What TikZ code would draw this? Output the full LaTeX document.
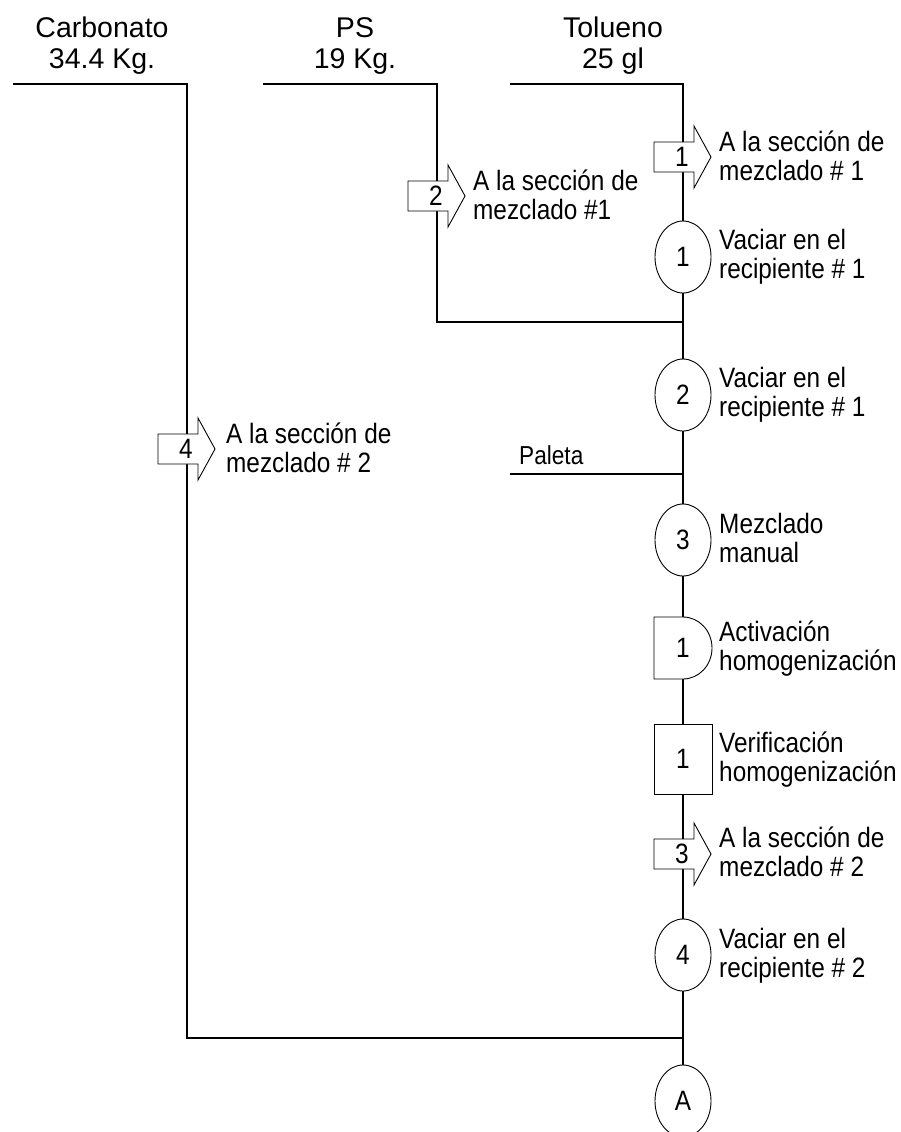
\documentclass[tikz,border=0pt]{standalone}
\usepackage{fontspec}
\setmainfont{Liberation Sans}
\newfontfamily\lblfont{Liberation Sans}[FakeStretch=0.87]
\usetikzlibrary{shapes.geometric,backgrounds}

\tikzset{
  flow/.style={line width=2.6pt},
  outl/.style={draw, line width=0.9pt, fill=white},
  opnode/.style={ellipse, outl, minimum width=56pt, minimum height=72pt, inner sep=0pt,
    font=\lblfont\fontsize{28}{30}\selectfont},
  inspnode/.style={rectangle, outl, minimum width=58pt, minimum height=70pt, inner sep=0pt,
    font=\lblfont\fontsize{28}{30}\selectfont},
  numtext/.style={inner sep=0pt, font=\lblfont\fontsize{28}{30}\selectfont},
  lbl/.style={align=left, anchor=base west, inner sep=0pt,
    font=\lblfont\fontsize{28}{29}\selectfont},
  toplbl/.style={align=center, anchor=base, inner sep=0pt,
    font=\fontsize{28.5}{31}\selectfont},
}
% transport arrow: name, x, y, number
\newcommand\transparrow[4]{%
  \draw[outl] (#2-29,#3-15) -- (#2+11,#3-15) -- (#2+11,#3-31) -- (#2+28,#3)
    -- (#2+11,#3+31) -- (#2+11,#3+15) -- (#2-29,#3+15) -- cycle;
  \node[numtext] (#1) at (#2-1,#3) {#4};}

\begin{document}
\begin{tikzpicture}[x=1pt,y=-1pt]
\useasboundingbox (0,0) rectangle (901,1132);

% top labels (base anchor = last line)
\node[toplbl] (carbLbl) at (102,68) {Carbonato\\34.4 Kg.};
\node[toplbl] (psLbl) at (355,68) {PS\\19 Kg.};
\node[toplbl] (tolLbl) at (613,68) {Tolueno\\25 gl};

% line coordinates
\coordinate (carbS) at (13,84);
\coordinate (carbC) at (187,84);
\coordinate (carbB) at (187,1038);
\coordinate (carbJ) at (683,1038);
\coordinate (psS) at (263,84);
\coordinate (psC) at (437,84);
\coordinate (psB) at (437,322);
\coordinate (psJ) at (683,322);
\coordinate (tolS) at (510,84);
\coordinate (tolC) at (683,84);
\coordinate (palS) at (510,474);
\coordinate (palJ) at (683,474);

% transports
\transparrow{t1}{683}{157}{1}
\transparrow{t2}{437}{196}{2}
\transparrow{t3}{683}{854}{3}
\transparrow{t4}{187}{449}{4}

% operations
\node[opnode] (op1) at (683,257) {1};
\node[opnode] (op2) at (683,395) {2};
\node[opnode] (op3) at (683,540) {3};
\node[opnode] (op4) at (683,955) {4};
\node[opnode] (conA) at (683,1101) {A};

% delay
\draw[outl] (654,617) -- (683,617) arc[start angle=-90, end angle=90, x radius=29, y radius=31]
  -- (654,679) -- cycle;
\node[numtext] (d1) at (683,648) {1};

% inspection
\node[inspnode] (i1) at (683,759) {1};

% labels (base anchor = last line baseline)
\node[lbl] (t1L) at (719,180) {A la sección de\\mezclado \# 1};
\node[lbl] (op1L) at (719,278) {Vaciar en el\\recipiente \# 1};
\node[lbl] (op2L) at (719,416) {Vaciar en el\\recipiente \# 1};
\node[lbl] (op3L) at (719,562) {Mezclado\\manual};
\node[lbl] (d1L) at (719,670) {Activación\\homogenización};
\node[lbl] (i1L) at (719,781) {Verificación\\homogenización};
\node[lbl] (t3L) at (719,876) {A la sección de\\mezclado \# 2};
\node[lbl] (op4L) at (719,977) {Vaciar en el\\recipiente \# 2};
\node[lbl] (t2L) at (473,219) {A la sección de\\mezclado \#1};
\node[lbl] (t4L) at (226,472) {A la sección de\\mezclado \# 2};
\node[lbl, font=\lblfont\fontsize{26}{28}\selectfont] (palL) at (519,464) {Paleta};

% connecting lines
\begin{scope}[on background layer]
\draw[flow] (carbS) -- (carbC) -- (carbB) -- (carbJ);
\draw[flow] (psS) -- (psC) -- (psB) -- (psJ);
\draw[flow] (tolS) -- (tolC) -- (conA);
\draw[flow] (palS) -- (palJ);
\end{scope}
\end{tikzpicture}
\end{document}
